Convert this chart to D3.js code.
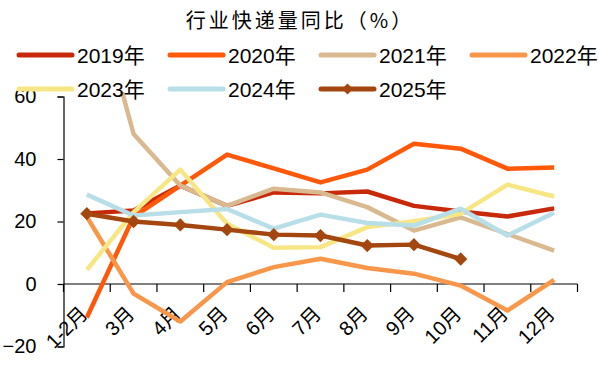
<!DOCTYPE html>
<html>
<head>
<meta charset="utf-8">
<script src="https://cdn.jsdelivr.net/npm/d3@7/dist/d3.min.js"></script>
<style>
  html, body { margin: 0; padding: 0; background: #fff; }
  svg { display: block; }
  text { font-family: "Liberation Sans", "Noto Sans CJK SC", sans-serif; fill: #000; }
</style>
</head>
<body>
<div id="chart"></div>
<script>
// Month categories (Jan–Feb are reported together)
const months = ["1-2月", "3月", "4月", "5月", "6月", "7月", "8月", "9月", "10月", "11月", "12月"];
const yTicks = [-20, 0, 20, 40, 60];

// Year-on-year growth of industry parcel volume, %
const y2019 = [22.6, 23.5, 31.5, 25.0, 29.3, 29.0, 29.6, 25.0, 23.2, 21.6, 24.2];
const y2020 = [-10.7, 21.5, 31.5, 41.4, 37.0, 32.5, 36.6, 44.9, 43.3, 36.9, 37.3];
const y2021 = [103.0, 48.0, 31.5, 25.0, 30.5, 29.3, 24.6, 17.1, 21.3, 16.0, 10.7];
const y2022 = [21.5, -3.1, -12.0, 0.6, 5.4, 8.1, 5.1, 3.3, -0.5, -8.5, 1.3];
const y2023 = [4.5, 23.0, 36.6, 19.3, 11.6, 11.8, 18.2, 20.1, 22.5, 31.8, 28.0];
const y2024 = [28.6, 21.9, 23.0, 24.0, 17.7, 22.2, 19.5, 18.7, 24.1, 15.5, 22.8];
const y2025 = [22.5, 20.0, 18.9, 17.4, 15.8, 15.5, 12.3, 12.6, 8.0];

const seriesNames = ["2019年", "2020年", "2021年", "2022年", "2023年", "2024年", "2025年"];
const seriesValues = [y2019, y2020, y2021, y2022, y2023, y2024, y2025];
const seriesColors = ["#C9290B", "#FF5809", "#D9B990", "#F8964A", "#F7E684", "#B8DEE8", "#A4460F"];

const W = 598, H = 388;
const svg = d3.select("#chart").append("svg").attr("width", W).attr("height", H);

const x = d3.scaleBand().domain(months).range([63.5, 577.5]);
const y = d3.scaleLinear().domain([-20, 60]).range([346.5, 96.5]);
const cx = m => x(m) + x.bandwidth() / 2;

// Title
svg.append("text")
  .attr("x", 300).attr("y", 28)
  .attr("text-anchor", "middle")
  .style("font-family", "'Noto Sans CJK SC', sans-serif")
  .style("font-size", "20px")
  .style("letter-spacing", "3px")
  .text("行业快递量同比（%）");

// Plot clip
svg.append("defs").append("clipPath").attr("id", "plotclip")
  .append("rect").attr("x", 60).attr("y", 92).attr("width", 520).attr("height", 256);

// Y axis
const yAxis = svg.append("g")
  .attr("transform", `translate(${x.range()[0]},0)`)
  .call(d3.axisLeft(y).tickValues(yTicks).tickSize(6).tickPadding(21).tickFormat(d3.format("d")));
yAxis.select(".domain").attr("stroke", "#000").attr("stroke-width", 1.2);
yAxis.selectAll(".tick line").attr("stroke", "#000").attr("stroke-width", 1.2);
yAxis.selectAll(".tick text")
  .style("font-family", "'Liberation Sans', sans-serif")
  .style("font-size", "20px").attr("fill", "#000");

// X axis along the zero line, ticks between categories
const xAxis = svg.append("g").attr("transform", `translate(0,${y(0)})`);
xAxis.append("line")
  .attr("x1", x.range()[0]).attr("x2", x.range()[1])
  .attr("stroke", "#000").attr("stroke-width", 1.2);
const bounds = months.map(m => x(m)).concat([x.range()[1]]);
xAxis.selectAll("line.tk").data(bounds).join("line").attr("class", "tk")
  .attr("x1", d => d).attr("x2", d => d).attr("y1", 0).attr("y2", 8)
  .attr("stroke", "#000").attr("stroke-width", 1.2);

svg.append("g").selectAll("text").data(months).join("text")
  .attr("transform", d => `translate(${cx(d) + 2},315) rotate(-45)`)
  .attr("text-anchor", "end")
  .style("font-size", "20px")
  .text(d => d);

// Series lines
const line = d3.line().x((d, i) => cx(months[i])).y(d => y(d));
const plot = svg.append("g").attr("clip-path", "url(#plotclip)");
seriesValues.forEach((vals, k) => {
  plot.append("path")
    .datum(vals)
    .attr("d", line)
    .attr("fill", "none")
    .attr("stroke", seriesColors[k])
    .attr("stroke-width", 4.5)
    .attr("stroke-linejoin", "round");
});

// Diamond markers for 2025
const diamond = d3.symbol().type(d3.symbolSquare).size(88);
svg.append("g").selectAll("path").data(y2025).join("path")
  .attr("transform", (d, i) => `translate(${cx(months[i])},${y(d)}) rotate(45)`)
  .attr("d", diamond)
  .attr("fill", seriesColors[6]);

// Legend, two rows
const legend = svg.append("g");
seriesNames.forEach((name, k) => {
  const col = k % 4, row = Math.floor(k / 4);
  const lx = 19 + col * 151, ly = 55 + row * 34;
  const g = legend.append("g").attr("transform", `translate(${lx},${ly})`);
  g.append("line").attr("x1", 0).attr("x2", 53).attr("y1", 0).attr("y2", 0)
    .attr("stroke", seriesColors[k]).attr("stroke-width", 5).attr("stroke-linecap", "round");
  if (k === 6) {
    g.append("path").attr("transform", "translate(26.5,0) rotate(45)")
      .attr("d", d3.symbol().type(d3.symbolSquare).size(60)).attr("fill", seriesColors[k]);
  }
  g.append("text").attr("x", 58).attr("y", 7.5)
    .style("font-size", "21px")
    .text(name);
});
</script>
</body>
</html>
